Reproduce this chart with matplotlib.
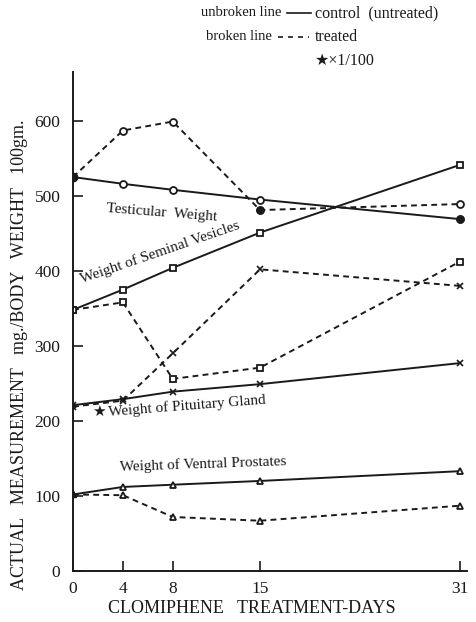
import matplotlib
matplotlib.use("Agg")
import matplotlib.pyplot as plt
from matplotlib.lines import Line2D

plt.rcParams['font.family'] = ['Liberation Serif', 'DejaVu Sans']

days = [0, 4, 8, 15, 31]
day_labels = ['0', '4', '8', '15', '31']
y_ticks = [0, 100, 200, 300, 400, 500, 600]

testis_control = [525, 516, 508, 495, 469]
testis_treated = [525, 587, 599, 481, 489]
vesicle_control = [348, 375, 404, 451, 541]
vesicle_treated = [348, 358, 256, 271, 412]
pituitary_control = [221, 229, 239, 249, 277]
pituitary_treated = [219, 227, 290, 402, 380]
prostate_control = [102, 112, 115, 120, 133]
prostate_treated = [102, 101, 72, 67, 87]

W, H = 476, 622
INK = '#1a1a1a'
fig = plt.figure(figsize=(W / 100, H / 100), dpi=100)
ax = fig.add_axes([73 / W, 51 / H, 394 / W, 499 / H])

solid = dict(color=INK, lw=1.4, linestyle='-')
dashed = dict(color=INK, lw=1.4, linestyle=(0, (3, 2.2)))
mk = dict(markersize=5, markerfacecolor='white', markeredgecolor=INK, markeredgewidth=1.3)

ax.plot(days, testis_control, marker='o', **solid, **mk)
ax.plot(days, testis_treated, marker='o', **dashed, **mk)
# filled points on testicular series
ax.plot([days[0]], [testis_control[0]], 'o', color=INK, markersize=6)
ax.plot([days[3]], [testis_treated[3]], 'o', color=INK, markersize=5)
ax.plot([days[4]], [testis_control[4]], 'o', color=INK, markersize=5)

ax.plot(days, vesicle_control, marker='s', **solid, **mk)
ax.plot(days, vesicle_treated, marker='s', **dashed, **mk)

ax.plot(days, pituitary_control, marker='x', **solid, markersize=5, markeredgewidth=1.2, markeredgecolor=INK)
ax.plot(days, pituitary_treated, marker='x', **dashed, markersize=5, markeredgewidth=1.2, markeredgecolor=INK)

ax.plot(days, prostate_control, marker='^', **solid, **mk)
ax.plot(days, prostate_treated, marker='^', **dashed, **mk)
ax.plot([days[0]], [prostate_control[0]], '^', color=INK, markersize=5)

ax.set_xlim(0, 31.6)
ax.set_ylim(0, 665)
ax.set_xticks(days)
ax.set_xticklabels(day_labels)
ax.set_yticks(y_ticks)
for s in ['top', 'right']:
    ax.spines[s].set_visible(False)
for s in ['left', 'bottom']:
    ax.spines[s].set_linewidth(1.4)
    ax.spines[s].set_color(INK)
ax.tick_params(direction='in', length=7, width=1.2, labelsize=12.5, colors=INK)
ax.tick_params(axis='y', pad=9)
ax.tick_params(axis='x', pad=7)

ax.set_xlabel('CLOMIPHENE   TREATMENT-DAYS', fontsize=13, color=INK, va='center')
ax.xaxis.set_label_coords(0.455, -0.075)
ax.set_ylabel('ACTUAL   MEASUREMENT   mg./BODY   WEIGHT   100gm.', fontsize=13, color=INK, va='center')
ax.yaxis.set_label_coords(-0.135, 0.433)

tk = dict(fontsize=11, color=INK, rotation_mode='anchor')
ax.text(2.7, 478, 'Testicular  Weight', rotation=-4.5, ha='left', va='baseline', **tk)
ax.text(0.7, 384, 'Weight of Seminal Vesicles', rotation=19, ha='left', va='baseline', **tk)
ax.text(1.5, 206, '\u2605', ha='left', va='baseline', fontsize=11, color=INK)
ax.text(2.9, 206, 'Weight of Pituitary Gland', rotation=4.5, ha='left', va='baseline', **tk)
ax.text(3.8, 133, 'Weight of Ventral Prostates', rotation=2, ha='left', va='baseline', **tk)

# legend text at top
lt = dict(fontsize=10.5, color=INK, va='center', ha='left')
rt = dict(fontsize=11.5, color=INK, va='center', ha='left')
fig.text(201 / W, 1 - 13 / H, 'unbroken line', **lt)
fig.add_artist(Line2D([287 / W, 311 / W], [1 - 13 / H, 1 - 13 / H], color=INK, lw=1.2))
fig.text(315 / W, 1 - 13 / H, 'control  (untreated)', **rt)
fig.text(206 / W, 1 - 37 / H, 'broken line', **lt)
fig.add_artist(Line2D([278 / W, 309 / W], [1 - 37 / H, 1 - 37 / H], color=INK, lw=1.2,
                      linestyle=(0, (3, 3))))
fig.text(315 / W, 1 - 37 / H, 'treated', **rt)
fig.text(315 / W, 1 - 61 / H, '\u2605\u00d71/100', **rt)

fig.savefig('out.png', dpi=100)
